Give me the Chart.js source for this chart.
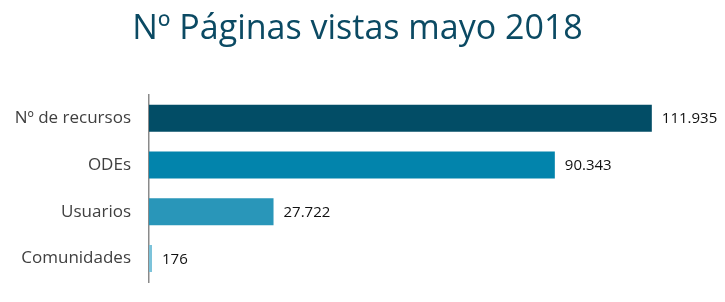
<!DOCTYPE html>
<html>
<head>
<meta charset="utf-8">
<script src="https://cdn.jsdelivr.net/npm/chart.js@4"></script>
<style>
  html, body { margin: 0; padding: 0; background: #fff; }
  #wrap { width: 725px; height: 302px; }
</style>
</head>
<body>
<div id="wrap"><canvas id="mycanvas"></canvas></div>
<script>
// data
var categories = ["Nº de recursos", "ODEs", "Usuarios", "Comunidades"];
var values = [111935, 90343, 27722, 176];
var barColors = ["#024d66", "#0284ac", "#2996b9", "#7cc3da"];
var title = "Nº Páginas vistas mayo 2018";

function fmt(n) {
	return String(n).replace(/\B(?=(\d{3})+(?!\d))/g, ".");
}

// writes the value to the right of each bar
var valueLabels = {
	id: "valueLabels",
	afterDatasetsDraw: function(chart) {
		var ctx = chart.ctx;
		var meta = chart.getDatasetMeta(0);
		ctx.save();
		ctx.font = "15px 'Open Sans', sans-serif";
		ctx.fillStyle = "#111";
		ctx.textBaseline = "middle";
		ctx.textAlign = "left";
		meta.data.forEach(function(bar, i) {
			ctx.fillText(fmt(values[i]), bar.x + 10, bar.y + 1);
		});
		ctx.restore();
	}
};

var ctx = document.getElementById("mycanvas");

var chart = new Chart(ctx, {
	type: "bar",
	data: {
		labels: categories,
		datasets: [{
			data: values,
			backgroundColor: barColors,
			borderWidth: 0,
			barPercentage: 0.72,
			categoryPercentage: 0.8,
			minBarLength: 3
		}]
	},
	options: {
		indexAxis: "y",
		responsive: true,
		maintainAspectRatio: false,
		animation: false,
		layout: { padding: { left: 0, right: 10, top: 0, bottom: 20 } },
		plugins: {
			legend: { display: false },
			tooltip: { enabled: false },
			title: {
				display: true,
				text: title,
				color: "#0b4a63",
				font: { family: "'Open Sans', sans-serif", size: 34, weight: "normal" },
				padding: { top: 9, bottom: 45 }
			}
		},
		scales: {
			x: {
				display: false,
				min: 0,
				max: 126000
			},
			y: {
				afterFit: function(scale) { scale.width = 149; },
				grid: {
					display: true,
					drawOnChartArea: false,
					drawTicks: true,
					tickLength: 18,
					color: "transparent"
				},
				border: { display: true, color: "#8a8a8a", width: 1.5 },
				ticks: {
					color: "#404040",
					padding: 0,
					font: { family: "'Open Sans', sans-serif", size: 17 }
				}
			}
		}
	},
	plugins: [valueLabels]
});
</script>
</body>
</html>
